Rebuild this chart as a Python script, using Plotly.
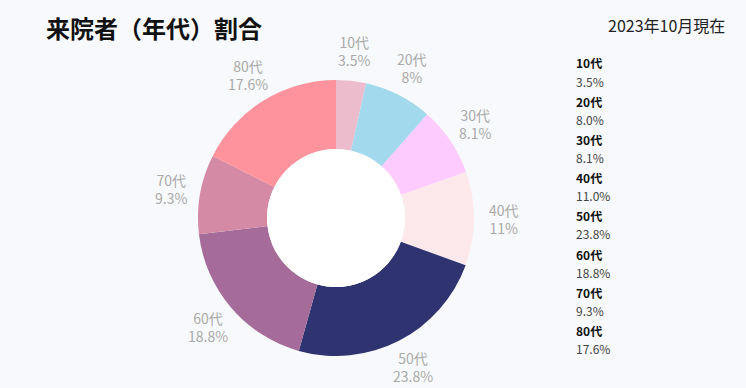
import math
import plotly.graph_objects as go

# 年代別の来院者割合（%）
ages = ["10代", "20代", "30代", "40代", "50代", "60代", "70代", "80代"]
shares = [3.5, 8.0, 8.1, 11.0, 23.8, 18.8, 9.3, 17.6]
colors = ["#ecbccc", "#a3d9ed", "#fecbfe", "#fde9ec", "#2f336f", "#a56b99", "#d48aa5", "#fe939d"]

W, H = 746, 388
BG = "#f8f9fc"
FONT = "Noto Sans CJK JP"

# pie box in pixels (centre and outer radius)
cx, cy, r = 336, 218, 138
hole = 0.5
label_r = 168  # distance of the slice labels from the centre

x_dom = [(cx - r) / W, (cx + r) / W]
y_dom = [1 - (cy + r) / H, 1 - (cy - r) / H]

fig = go.Figure(
    go.Pie(
        labels=ages,
        values=shares,
        marker=dict(colors=colors, line=dict(width=0)),
        hole=hole,
        sort=False,
        direction="clockwise",
        rotation=0,
        textinfo="none",
        showlegend=False,
        domain=dict(x=x_dom, y=y_dom),
        automargin=False,
        hoverinfo="label+percent",
    )
)

# white centre of the doughnut
hr = r * hole
fig.add_shape(
    type="circle", xref="paper", yref="paper",
    x0=(cx - hr) / W, x1=(cx + hr) / W,
    y0=1 - (cy + hr) / H, y1=1 - (cy - hr) / H,
    fillcolor="#ffffff", line=dict(width=0), layer="above",
)

# slice labels placed along each slice's mid-angle
total = sum(shares)
cum = 0.0
for a, v in zip(ages, shares):
    mid = (cum + v / 2) / total * 2 * math.pi
    cum += v
    px = cx + label_r * math.sin(mid)
    py = cy - label_r * math.cos(mid)
    fig.add_annotation(
        x=px / W, y=1 - py / H, xref="paper", yref="paper",
        text=f"{a}<br>{v:g}%", showarrow=False, xanchor="center", yanchor="middle",
        align="center",
        font=dict(family=FONT, size=14, color="#aaaaaa"),
    )

# value list on the right: bold age group, value underneath
list_x = 576 / W
top, step, gap = 63, 38.2, 18
for i, (a, v) in enumerate(zip(ages, shares)):
    y0 = top + i * step
    fig.add_annotation(
        x=list_x, y=1 - y0 / H, xref="paper", yref="paper",
        text=f"<b>{a}</b>", showarrow=False, xanchor="left", yanchor="middle",
        borderpad=0, borderwidth=0,
        font=dict(family=FONT, size=12, color="#111111"),
    )
    fig.add_annotation(
        x=list_x, y=1 - (y0 + gap) / H, xref="paper", yref="paper",
        text=f"{v:.1f}%", showarrow=False, xanchor="left", yanchor="middle",
        borderpad=0, borderwidth=0,
        font=dict(family=FONT, size=12, color="#444444"),
    )

fig.add_annotation(
    x=44 / W, y=1 - 28 / H, xref="paper", yref="paper",
    text="<b>来院者（年代）割合</b>", showarrow=False, xanchor="left", yanchor="middle",
    font=dict(family=FONT, size=24, color="#111111"),
)
fig.add_annotation(
    x=727 / W, y=1 - 25 / H, xref="paper", yref="paper",
    text="2023年10月現在", showarrow=False, xanchor="right", yanchor="middle",
    font=dict(family=FONT, size=16, color="#222222"),
)

fig.update_layout(
    width=W, height=H,
    margin=dict(l=0, r=0, t=0, b=0),
    paper_bgcolor=BG, plot_bgcolor=BG,
)

fig.write_html("out.html")
